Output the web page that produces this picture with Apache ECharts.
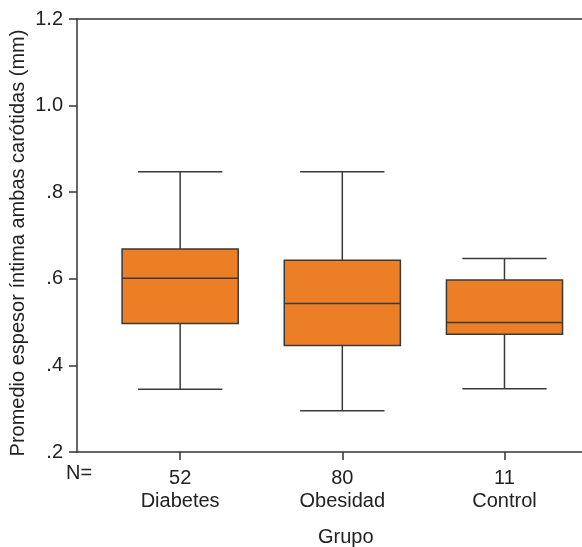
<!DOCTYPE html>
<html>
<head>
    <meta charset="utf-8">
    <title>Grupo</title>
    <script src="https://cdn.jsdelivr.net/npm/echarts@6/dist/echarts.min.js"></script>
</head>
<body style="margin:0">
<div id="main" style="width:582px;height:547px"></div>
<script type="text/javascript">
    // datos
    var grupos = ['Diabetes', 'Obesidad', 'Control'];
    var nCasos = [52, 80, 11];
    // [min, Q1, mediana, Q3, max]
    var cajas = [
        [0.345, 0.497, 0.601, 0.669, 0.847],
        [0.295, 0.446, 0.543, 0.643, 0.847],
        [0.346, 0.472, 0.499, 0.597, 0.647]
    ];
    var yTicks = [0.2, 0.4, 0.6, 0.8, 1.0, 1.2];

    var datos = cajas.map(function (c, i) {
        return [i + 1].concat(c);
    });

    var fuente = 'Liberation Sans, Arial, sans-serif';
    var gris = '#333';

    var myChart = echarts.init(document.getElementById('main'));

    function dibujarCaja(params, api) {
        var x = api.value(0);
        var pMin = api.coord([x, api.value(1)]);
        var pQ1 = api.coord([x, api.value(2)]);
        var pMed = api.coord([x, api.value(3)]);
        var pQ3 = api.coord([x, api.value(4)]);
        var pMax = api.coord([x, api.value(5)]);
        var anchoCaja = api.size([0.716, 0])[0];
        var anchoBigote = api.size([0.52, 0])[0];
        var cx = pMed[0];
        var linea = { stroke: '#3a3a3a', lineWidth: 1.5 };
        return {
            type: 'group',
            children: [
                { type: 'line', shape: { x1: cx, y1: pMax[1], x2: cx, y2: pQ3[1] }, style: linea },
                { type: 'line', shape: { x1: cx, y1: pQ1[1], x2: cx, y2: pMin[1] }, style: linea },
                { type: 'line', shape: { x1: cx - anchoBigote / 2, y1: pMax[1], x2: cx + anchoBigote / 2, y2: pMax[1] }, style: linea },
                { type: 'line', shape: { x1: cx - anchoBigote / 2, y1: pMin[1], x2: cx + anchoBigote / 2, y2: pMin[1] }, style: linea },
                {
                    type: 'rect',
                    shape: { x: cx - anchoCaja / 2, y: pQ3[1], width: anchoCaja, height: pQ1[1] - pQ3[1] },
                    style: { fill: '#ec7f26', stroke: '#3a3a3a', lineWidth: 1.5 }
                },
                { type: 'line', shape: { x1: cx - anchoCaja / 2, y1: pMed[1], x2: cx + anchoCaja / 2, y2: pMed[1] }, style: linea }
            ]
        };
    }

    myChart.setOption({
        animation: false,
        grid: { left: 77, right: 0, top: 19, bottom: 95, outerBoundsMode: 'none' },
        xAxis: [{
            type: 'value',
            min: 0.364,
            max: 3.478,
            splitLine: { show: false },
            axisLine: { lineStyle: { color: gris, width: 1.5 } },
            axisTick: { customValues: [1, 2, 3], length: 8, lineStyle: { color: gris, width: 1.5 } },
            axisLabel: {
                customValues: [1, 2, 3],
                margin: 15,
                color: '#222',
                fontFamily: fuente,
                fontSize: 20,
                lineHeight: 23,
                formatter: function (v) {
                    var i = Math.round(v) - 1;
                    return nCasos[i] + '\n' + grupos[i];
                }
            }
        }, {
            type: 'value',
            position: 'top',
            min: 0, max: 1,
            axisLine: { show: true, onZero: false, lineStyle: { color: gris, width: 1.5 } },
            axisTick: { show: false },
            axisLabel: { show: false },
            splitLine: { show: false }
        }],
        yAxis: {
            type: 'value',
            min: 0.2,
            max: 1.2,
            interval: 0.2,
            splitLine: { show: false },
            axisLine: { show: true, lineStyle: { color: gris, width: 1.5 } },
            axisTick: { show: true, length: 8, lineStyle: { color: gris, width: 1.5 } },
            axisLabel: {
                margin: 14,
                color: '#222',
                fontFamily: fuente,
                fontSize: 20,
                formatter: function (v) {
                    var s = v.toFixed(1);
                    return s.charAt(0) === '0' ? s.slice(1) : s;
                }
            }
        },
        graphic: [
            {
                type: 'text', x: 18, y: 243, rotation: Math.PI / 2,
                style: {
                    text: 'Promedio espesor íntima ambas carótidas (mm)',
                    fontFamily: fuente, fontSize: 20, fill: '#222',
                    align: 'center', verticalAlign: 'middle'
                }
            },
            { type: 'text', left: 66, top: 463, style: { text: 'N=', fontFamily: fuente, fontSize: 20, fill: '#222' } },
            { type: 'text', left: 318, top: 527, style: { text: 'Grupo', fontFamily: fuente, fontSize: 20, fill: '#222' } }
        ],
        series: [{
            type: 'custom',
            renderItem: dibujarCaja,
            encode: { x: 0, y: [1, 2, 3, 4, 5] },
            data: datos
        }]
    });
</script>
</body>
</html>
